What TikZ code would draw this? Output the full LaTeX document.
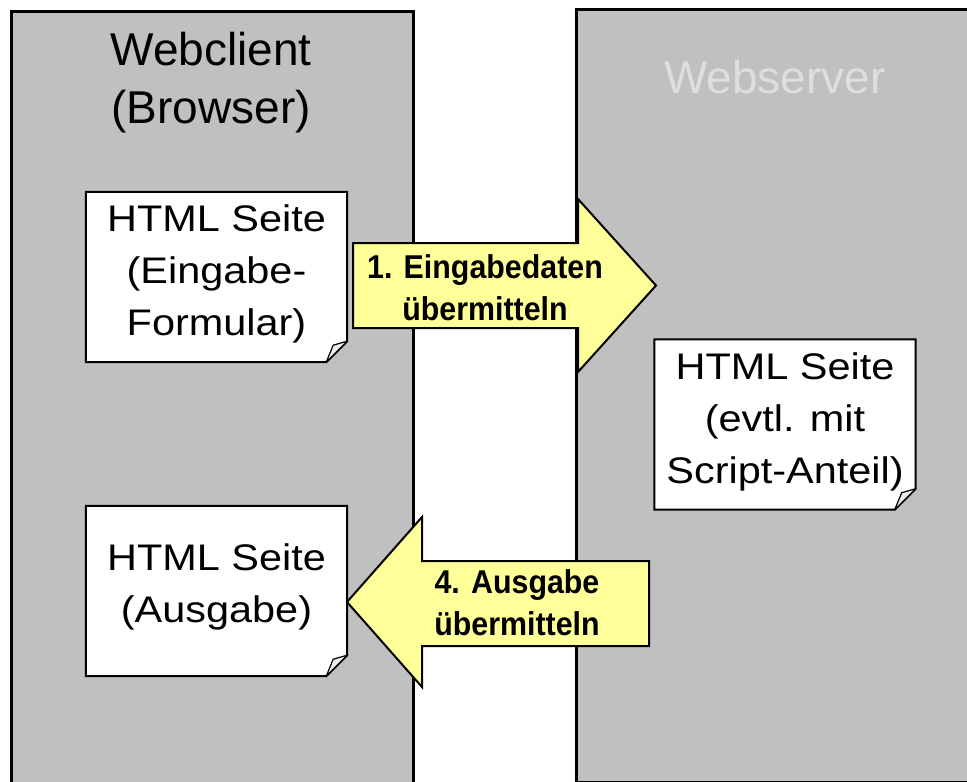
\documentclass[tikz,border=0pt]{standalone}
\usepackage{fontspec}
\setmainfont{Liberation Sans}
\newfontfamily\pagefont[FakeStretch=1.12]{Liberation Sans}
\newfontfamily\arrowfont[FakeStretch=0.92]{Liberation Sans}
\definecolor{panelgray}{HTML}{C0C0C0}
\definecolor{servertext}{HTML}{DEDEDE}
\definecolor{arrowyellow}{HTML}{FFFF99}
\begin{document}
\begin{tikzpicture}[x=1pt,y=-1pt,
  panel/.style={draw=black, line width=3pt, fill=panelgray},
  title/.style={font=\fontsize{46}{58}\selectfont, align=center, inner sep=0pt, anchor=base},
  pagearea/.style={minimum width=261pt, minimum height=170pt, inner sep=0pt},
  pagetext/.style={font=\pagefont\fontsize{37}{52}\selectfont, align=center, inner sep=0pt, anchor=base},
  pagebox/.style={draw=black, line width=2pt, fill=white, line join=miter},
  flap/.style={draw=black, line width=1.2pt, fill=gray!15, line join=round},
  blockarrow/.style={draw=black, line width=2pt, fill=arrowyellow, line join=miter},
  arrowtext/.style={font=\arrowfont\bfseries\fontsize{33}{42}\selectfont, align=center, inner sep=0pt, anchor=base},
]
\useasboundingbox (0,0) rectangle (967,782);
\clip (0,0) rectangle (967,782);
\fill[white] (0,0) rectangle (967,782);

% panels
\node[panel, anchor=north west, minimum width=402pt, minimum height=800pt] (client) at (10,10) {};
\node[panel, anchor=north west, minimum width=420pt, minimum height=773pt] (server) at (575,8) {};

\node[title] (clienttitle) at (211,123) {Webclient\\(Browser)};
\node[title, text=servertext] (servertitle) at (775,93) {Webserver};

% pages
\foreach \n/\cx/\cy in {page1/216.5/277, page2/216.5/591, page3/785/424.5} {
  \node[pagearea] (\n) at (\cx,\cy) {};
  \draw[pagebox] (\n.north west) -- (\n.north east) -- ([yshift=21pt]\n.south east)
     -- ([xshift=-21pt]\n.south east) -- (\n.south west) -- cycle;
  \draw[flap] ([yshift=21pt]\n.south east) -- ([xshift=-14pt,yshift=17pt]\n.south east)
     -- ([xshift=-21pt]\n.south east) -- cycle;
}
\node[pagetext] (page1text) at (216.5,335) {HTML Seite\\(Eingabe-\\Formular)};
\node[pagetext] (page2text) at (216.5,622) {HTML Seite\\(Ausgabe)};
\node[pagetext] (page3text) at (785,483) {HTML Seite\\(evtl. mit\\Script-Anteil)};

% block arrows
\draw[blockarrow] (353,243) -- (578,243) -- (578,199) -- (656,285.5) -- (578,372)
   -- (578,328) -- (353,328) -- cycle;
\node[arrowtext] (sendinput) at (485,320) {1. Eingabedaten\\übermitteln};

\draw[blockarrow] (649,561) -- (422,561) -- (422,517) -- (347,602) -- (422,687)
   -- (422,646) -- (649,646) -- cycle;
\node[arrowtext] (sendoutput) at (517,635) {4. Ausgabe\\übermitteln};
\end{tikzpicture}
\end{document}
